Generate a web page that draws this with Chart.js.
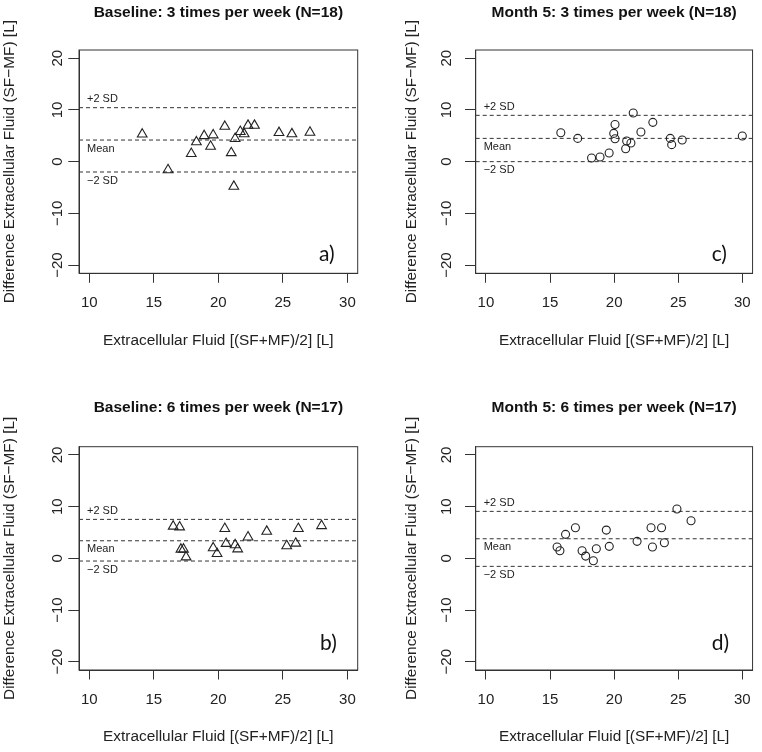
<!DOCTYPE html>
<html>
<head>
<meta charset="utf-8">
<script src="https://cdn.jsdelivr.net/npm/chart.js@4.4.1/dist/chart.umd.min.js"></script>
<style>
  body { margin: 0; background: #fff; }
  #wrap { position: relative; width: 762px; height: 752px; }
  canvas { position: absolute; }
</style>
</head>
<body>
<div id="wrap">
  <canvas id="panelA" width="381" height="376" style="left:0;top:0"></canvas>
  <canvas id="panelC" width="381" height="376" style="left:381px;top:0"></canvas>
  <canvas id="panelB" width="381" height="376" style="left:0;top:376px"></canvas>
  <canvas id="panelD" width="381" height="376" style="left:381px;top:376px"></canvas>
</div>
<script>
// axis ticks, shared by all four panels
var xTicks = [10, 15, 20, 25, 30];
var yTicks = [-20, -10, 0, 10, 20];
var xLimits = [9.2, 30.8];
var yLimits = [-21.6, 21.6];

// a) Baseline, 3 times per week
var base3X = [14.1, 16.1, 17.9, 18.3, 18.9, 19.6, 19.4, 20.5, 21.0, 21.2, 21.3, 21.7, 22.0, 22.3, 22.8, 24.7, 25.7, 27.1];
var base3Y = [5.3, -1.6, 1.55, 3.8, 5.0, 5.15, 2.95, 6.8, 1.7, -4.8, 4.45, 5.8, 5.35, 7.0, 7.0, 5.6, 5.35, 5.65];
var base3Lines = [10.44, 4.18, -2.0]; // +2 SD, mean, -2 SD

// c) Month 5, 3 times per week
var month3X = [15.84, 17.16, 18.24, 18.9, 19.61, 19.97, 20.07, 20.07, 20.9, 20.98, 21.31, 21.49, 22.09, 23.02, 24.38, 24.49, 25.31, 30.0];
var month3Y = [5.6, 4.5, 0.7, 0.9, 1.66, 5.47, 7.2, 4.44, 2.5, 4.0, 3.6, 9.4, 5.73, 7.6, 4.5, 3.29, 4.18, 4.95];
var month3Lines = [8.96, 4.5, 0.0];

// b) Baseline, 6 times per week
var base6X = [16.5, 17.0, 17.1, 17.3, 17.5, 19.6, 19.9, 20.5, 20.6, 21.3, 21.5, 22.3, 23.75, 25.3, 26.0, 26.2, 28.0];
var base6Y = [6.2, 6.05, 1.75, 1.75, 0.25, 2.0, 0.9, 5.75, 2.85, 2.6, 1.8, 4.1, 5.2, 2.4, 2.9, 5.75, 6.3];
var base6Lines = [7.54, 3.4, -0.52];

// d) Month 5, 6 times per week
var month6X = [15.55, 15.77, 16.21, 16.98, 17.5, 17.78, 18.38, 18.61, 19.39, 19.62, 21.79, 22.88, 22.99, 23.7, 23.92, 24.9, 26.0];
var month6Y = [2.19, 1.48, 4.64, 5.92, 1.48, 0.44, -0.46, 1.86, 5.47, 2.32, 3.29, 5.92, 2.19, 5.92, 3.02, 9.54, 7.27];
var month6Lines = [9.09, 3.79, -1.55];

var lineLabels = ["+2 SD", "Mean", "\u22122 SD"];
var xTitle = "Extracellular Fluid [(SF+MF)/2] [L]";
var yTitle = "Difference Extracellular Fluid (SF\u2212MF) [L]";

var FONT = "'Liberation Sans', Arial, sans-serif";
var INK = "#222";
Chart.defaults.font.family = FONT;
Chart.defaults.color = INK;

function textWidth(txt, size) {
  var c = document.createElement("canvas").getContext("2d");
  c.font = size + "px " + FONT;
  return c.measureText(txt).width;
}

function fmtTick(v) {
  return v < 0 ? "\u2212" + Math.abs(v) : String(v);
}

// frame around the plot region, like R's box()
var boxPlugin = {
  id: "box",
  afterDraw: function (chart) {
    var a = chart.chartArea, ctx = chart.ctx;
    ctx.save();
    ctx.strokeStyle = "#333";
    ctx.lineWidth = 1;
    ctx.strokeRect(a.left, a.top, a.right - a.left, a.bottom - a.top);
    ctx.restore();
  }
};

// "+2 SD" / "Mean" / "-2 SD" text and the a) b) c) d) tag
var notesPlugin = {
  id: "notes",
  afterDatasetsDraw: function (chart) {
    var o = chart.options.plugins.notes;
    var ctx = chart.ctx, a = chart.chartArea, ys = chart.scales.y;
    ctx.save();
    ctx.fillStyle = INK;
    ctx.font = "11px " + FONT;
    ctx.textAlign = "left";
    ctx.textBaseline = "middle";
    var shift = [-8.5, 8.5, 8.5];
    for (var i = 0; i < o.lines.length; i++) {
      ctx.fillText(lineLabels[i], a.left + 8, ys.getPixelForValue(o.lines[i]) + shift[i]);
    }
    ctx.font = "21px Lato, 'Open Sans', sans-serif";
    ctx.textBaseline = "alphabetic";
    ctx.fillStyle = "#111";
    ctx.fillText(o.tag, o.tagX, o.tagY);
    ctx.restore();
  }
};

function makePanel(id, title, xs, ys, lines, marker, tag, box) {
  var pts = xs.map(function (x, i) { return { x: x, y: ys[i] }; });
  var refs = lines.map(function (v) {
    return {
      type: "line",
      data: [{ x: xLimits[0], y: v }, { x: xLimits[1], y: v }],
      borderColor: "#333",
      borderWidth: 1,
      borderDash: [4, 3],
      pointRadius: 0,
      order: 2
    };
  });
  var tickW = textWidth("\u221220", 15);
  var tl = 10.7;

  new Chart(document.getElementById(id), {
    data: {
      datasets: refs.concat([{
        type: "scatter",
        data: pts,
        pointStyle: marker,
        pointRadius: marker === "triangle" ? 5.6 : 4,
        backgroundColor: "rgba(0,0,0,0)",
        borderColor: "#222",
        borderWidth: 1.1,
        order: 1
      }])
    },
    options: {
      responsive: false,
      animation: false,
      events: [],
      layout: { padding: { left: 0, right: 381 - box.right, top: 0, bottom: 0 } },
      plugins: {
        legend: { display: false },
        tooltip: { enabled: false },
        title: {
          display: true,
          text: title,
          fullSize: false,
          color: "#111",
          font: { size: 15.5, weight: "bold" },
          padding: { top: box.titleY - 9.3, bottom: box.top - 18.6 - (box.titleY - 9.3) }
        },
        notes: { lines: lines, tag: tag, tagX: box.tagX, tagY: box.tagY }
      },
      scales: {
        x: {
          type: "linear",
          min: xLimits[0],
          max: xLimits[1],
          afterBuildTicks: function (s) { s.ticks = xTicks.map(function (v) { return { value: v }; }); },
          afterFit: function (s) { s.height = 376 - box.bottom; },
          grid: { display: true, drawOnChartArea: false, drawTicks: true, tickLength: 9.5, color: "#333" },
          border: { display: true, color: "#333" },
          ticks: { font: { size: 15 }, padding: 11, maxRotation: 0, color: INK },
          title: {
            display: true,
            text: xTitle,
            font: { size: 15.4 },
            color: INK,
            padding: { top: 0, bottom: 376 - (box.bottom + 67) - 9.2 }
          }
        },
        y: {
          type: "linear",
          min: yLimits[0],
          max: yLimits[1],
          afterBuildTicks: function (s) { s.ticks = yTicks.map(function (v) { return { value: v }; }); },
          afterFit: function (s) { s.width = box.left; },
          grid: { display: true, drawOnChartArea: false, drawTicks: true, tickLength: tl, color: "#333" },
          border: { display: true, color: "#333" },
          ticks: {
            font: { size: 15 },
            minRotation: 90,
            maxRotation: 90,
            crossAlign: "center",
            padding: box.left - tl - tickW / 2 - box.tickX,
            color: INK,
            callback: function (v) { return fmtTick(v); }
          },
          title: {
            display: true,
            text: yTitle,
            font: { size: 15.4 },
            color: INK,
            padding: { top: box.yTitleX - 9.2, bottom: 0 }
          }
        }
      }
    },
    plugins: [boxPlugin, notesPlugin]
  });
}

makePanel("panelA", "Baseline: 3 times per week (N=18)", base3X, base3Y, base3Lines, "triangle", "a)",
  { left: 79, right: 357.7, top: 50, bottom: 273.3, titleY: 12.5, tickX: 57.5, yTitleX: 10, tagX: 319, tagY: 261 });
makePanel("panelC", "Month 5: 3 times per week (N=18)", month3X, month3Y, month3Lines, "circle", "c)",
  { left: 94.7, right: 374, top: 50, bottom: 273.3, titleY: 12.5, tickX: 65.7, yTitleX: 30.5, tagX: 330.7, tagY: 261 });
makePanel("panelB", "Baseline: 6 times per week (N=17)", base6X, base6Y, base6Lines, "triangle", "b)",
  { left: 79, right: 357.7, top: 70.7, bottom: 294, titleY: 32, tickX: 57.5, yTitleX: 10, tagX: 320, tagY: 274 });
makePanel("panelD", "Month 5: 6 times per week (N=17)", month6X, month6Y, month6Lines, "circle", "d)",
  { left: 94.7, right: 374, top: 70.7, bottom: 294, titleY: 32, tickX: 65.7, yTitleX: 30.5, tagX: 330.7, tagY: 274 });
</script>
</body>
</html>
